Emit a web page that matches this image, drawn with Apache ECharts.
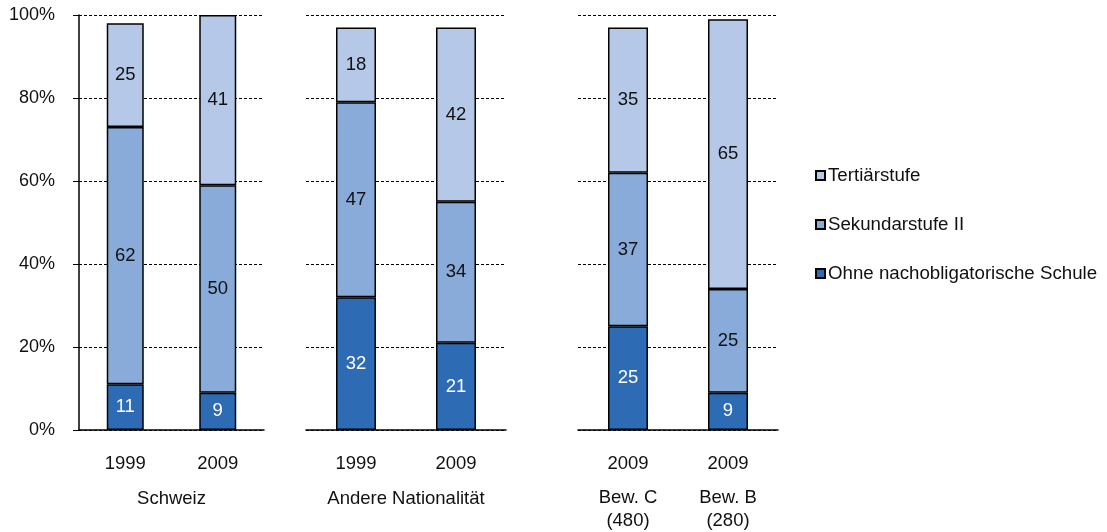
<!DOCTYPE html>
<html>
<head>
<meta charset="utf-8">
<script src="https://cdn.jsdelivr.net/npm/echarts@6/dist/echarts.min.js"></script>
<style>
  html, body { margin: 0; padding: 0; background: #fff; }
  #chart { width: 1107px; height: 532px; }
</style>
</head>
<body>
<div id="chart"></div>
<script>
// Bars: Schweiz 1999/2009, Andere Nationalität 1999/2009, Bew. C 2009, Bew. B 2009
const years = ['1999', '2009', '1999', '2009', '2009', '2009'];
const groupNames = ['Schweiz', 'Andere Nationalität', ''];
const permitLabels = ['Bew. C\n(480)', 'Bew. B\n(280)'];
const seriesNames = ['Ohne nachobligatorische Schule', 'Sekundarstufe II', 'Tertiärstufe'];
const ohne = [11, 9, 32, 21, 25, 9];
const sekundar = [62, 50, 47, 34, 37, 25];
const tertiaer = [25, 41, 18, 42, 35, 65];
const yTicks = [0, 20, 40, 60, 80, 100];

const FONT = 'Liberation Sans, Arial, sans-serif';
const FS = 18.5;
const colors = ['#2D6BB4', '#88ABD9', '#B5C8E7'];
const labelColors = ['#ffffff', '#111111', '#111111'];
const values = [ohne, sekundar, tertiaer];

const grids = [
  { left: 79, width: 185, top: 15, height: 415 },
  { left: 306, width: 200, top: 15, height: 415 },
  { left: 578, width: 200, top: 15, height: 415 }
];
const slices = [[0, 2], [2, 4], [4, 6]];

const xAxes = [];
const yAxes = [];
const series = [];

grids.forEach((g, gi) => {
  const [a, b] = slices[gi];
  xAxes.push({
    type: 'category',
    gridIndex: gi,
    data: years.slice(a, b),
    axisLine: { lineStyle: { color: '#000', width: 1.5 } },
    axisTick: { show: false },
    axisLabel: { margin: 24, fontFamily: FONT, fontSize: FS, color: '#111' },
    name: groupNames[gi],
    nameLocation: 'middle',
    nameGap: 59,
    nameTextStyle: { fontFamily: FONT, fontSize: FS, color: '#111' }
  });
  yAxes.push({
    type: 'value',
    gridIndex: gi,
    min: yTicks[0],
    max: yTicks[yTicks.length - 1],
    interval: 20,
    axisLine: { show: gi === 0, lineStyle: { color: '#000', width: 1.5 } },
    axisTick: { show: gi === 0, length: 6, lineStyle: { color: '#000' } },
    axisLabel: {
      show: gi === 0, margin: 24, fontFamily: FONT, fontSize: 18, color: '#111',
      formatter: v => v + '%'
    },
    splitLine: { show: true, lineStyle: { color: '#000', type: [3, 2], width: 1 } }
  });
  values.forEach((vals, si) => {
    series.push({
      name: seriesNames[si],
      type: 'bar',
      stack: 'g' + gi,
      xAxisIndex: gi,
      yAxisIndex: gi,
      barWidth: '40%',
      data: vals.slice(a, b),
      itemStyle: { color: colors[si], borderColor: '#000', borderWidth: 1.5 },
      label: {
        show: true, position: 'inside', fontFamily: FONT, fontSize: FS,
        color: labelColors[si]
      },
      emphasis: { disabled: true },
      animation: false
    });
  });
});

// Second category axis under the permit bars for the "Bew." captions
xAxes.push({
  type: 'category',
  gridIndex: 2,
  position: 'bottom',
  data: permitLabels,
  axisLine: { show: false },
  axisTick: { show: false },
  axisLabel: { margin: 56, fontFamily: FONT, fontSize: FS, color: '#111', lineHeight: 23 }
});

const chart = echarts.init(document.getElementById('chart'), null, { renderer: 'canvas' });
chart.setOption({
  animation: false,
  backgroundColor: '#ffffff',
  grid: grids,
  xAxis: xAxes,
  yAxis: yAxes,
  legend: {
    data: [seriesNames[2], seriesNames[1], seriesNames[0]],
    orient: 'vertical',
    left: 815,
    top: 166,
    padding: 0,
    itemWidth: 9,
    itemHeight: 9,
    itemGap: 30,
    icon: 'rect',
    selectedMode: false,
    textStyle: { fontFamily: FONT, fontSize: 18.7, color: '#111', padding: [0, 0, 0, -2] }
  },
  series: series
});
</script>
</body>
</html>
